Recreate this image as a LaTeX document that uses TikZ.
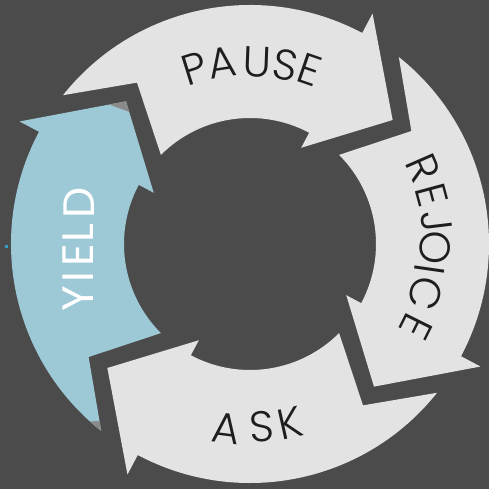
\documentclass[tikz,border=0pt]{standalone}
\usepackage{fontspec}
\setmainfont{Poppins Light}
\newfontfamily\popreg{Poppins}
\usetikzlibrary{calc}
\definecolor{bg}{HTML}{4B4B4B}
\definecolor{arr}{HTML}{E3E3E3}
\definecolor{hl}{HTML}{9DC8D6}
\definecolor{sh}{HTML}{8A8A8A}
\definecolor{tx}{HTML}{1E1E1E}
\definecolor{dotc}{HTML}{3A9EC2}
\newcommand\cyclearrow[2]{%
  \begin{scope}[rotate=#1]
    \fill[#2] (141.5:239) arc[start angle=141.5, end angle=62, radius=239]
      -- (62:261) -- (41:189) -- (62:109) -- (62:126)
      arc[start angle=62, end angle=135, radius=126]
      -- (125:197) -- cycle;
  \end{scope}}
\tikzset{
  lt/.style={font=\fontsize{43}{43}\selectfont, inner sep=0pt, text=tx},
  ltw/.style={lt, font=\popreg\fontsize{44}{44}\selectfont, text=white}
}
\begin{document}
\begin{tikzpicture}[x=1pt, y=1pt]
  \useasboundingbox (-250,-245) rectangle (239,244);
  \fill[bg] (-250,-245) rectangle (239,244);
  % arrows
  \cyclearrow{0}{arr}
  \cyclearrow{-90}{arr}
  \cyclearrow{-180}{arr}
  \cyclearrow{90}{hl}
  % shading corners of the highlighted arrow
  \begin{scope}[rotate=90]
    \coordinate (yt) at (41:189);
    \coordinate (yob) at (62:261);
    \coordinate (yib) at (62:109);
    \coordinate (yc) at (141.5:239);
    \coordinate (ya) at (137.9:239);
    \coordinate (yn) at (125:197);
  \end{scope}
  \fill[sh] (yt) -- ($(yt)!17pt!(yob)$) -- ($(yt)!11pt!(yib)$) -- cycle;
  \fill[sh] (yc) -- (ya) -- ($(yc)!10pt!(yn)$) -- cycle;
  \fill[dotc] (-245,-4) rectangle (-242,-1);
  % PAUSE
  \node[lt, rotate=17.4]  (p1) at (107.4:184.4) {P};
  \node[lt, rotate=8.8]   (p2) at (98.8:183) {A};
  \node[lt, rotate=-2.2]  (p3) at (87.8:182) {U};
  \node[lt, rotate=-11.1] (p4) at (78.9:182) {S};
  \node[lt, rotate=-19]   (p5) at (71:184) {E};
  % REJOICE
  \node[lt, rotate=-66.4] (r1) at (23.6:189) {R};
  \node[lt, rotate=-74.9] (r2) at (15.1:188) {E};
  \node[lt, rotate=-83.2] (r3) at (6.8:188) {J};
  \node[lt, rotate=-91.3] (r4) at (-1.3:185) {O};
  \node[lt, rotate=-98.2] (r5) at (-8.2:182) {I};
  \node[lt, rotate=-105.7] (r6) at (-15.7:182) {C};
  \node[lt, rotate=-116.4] (r7) at (-26.4:186) {E};
  % ASK
  \node[lt, rotate=-7.2] (a1) at (-97.2:185.8) {A};
  \node[lt, rotate=3.7]  (a2) at (-86.3:183) {S};
  \node[lt, rotate=12.6] (a3) at (-77.4:183.7) {K};
  % YIELD
  \node[ltw, rotate=90] (y1) at (-171.7,-54.3) {Y};
  \node[ltw, rotate=90] (y2) at (-171.7,-32.7) {I};
  \node[ltw, rotate=90] (y3) at (-171.7,-11) {E};
  \node[ltw, rotate=90] (y4) at (-171.7,10.7) {L};
  \node[ltw, rotate=90] (y5) at (-170.5,40.7) {D};
\end{tikzpicture}
\end{document}
